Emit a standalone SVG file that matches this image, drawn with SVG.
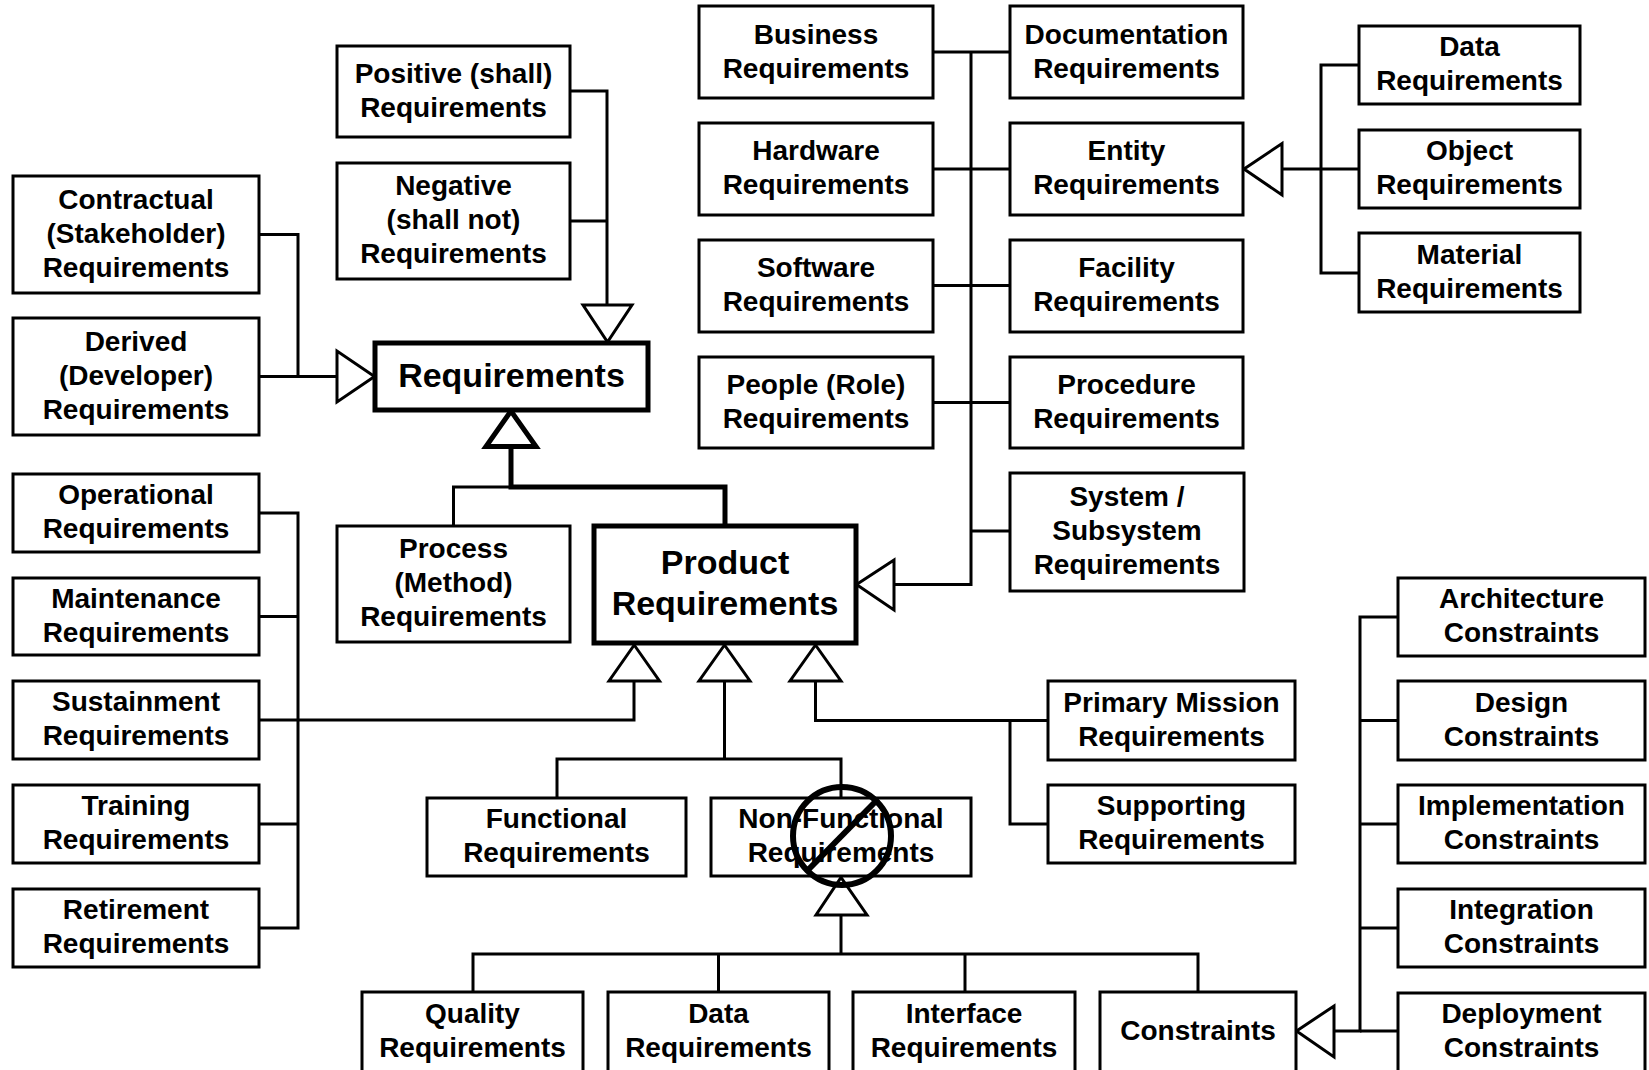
<svg xmlns="http://www.w3.org/2000/svg" width="1649" height="1070" viewBox="0 0 1649 1070">
  <style>
    .box { fill: #fff; stroke: #000; stroke-width: 3; }
    .bold { fill: #fff; stroke: #000; stroke-width: 5; }
    .ln { fill: none; stroke: #000; stroke-width: 3; stroke-linejoin: miter; }
    .thick { fill: none; stroke: #000; stroke-width: 5; stroke-linejoin: miter; }
    .tri { fill: #fff; stroke: #000; stroke-width: 3; stroke-linejoin: miter; }
    .tri-thick { fill: #fff; stroke: #000; stroke-width: 5; stroke-linejoin: miter; }
    text { font-family: "Liberation Sans", Arial, sans-serif; font-weight: bold; font-size: 28px; text-anchor: middle; fill: #000; }
    text.big { font-size: 34px; }
    .no { fill: none; stroke: #000; stroke-width: 6; }
  </style>

  <!-- connectors and generalization triangles -->
  <g id="connectors">
    <!-- Contractual / Derived to Requirements -->
    <path class="ln" d="M259,234.5 H298 V376.5"/>
    <path class="ln" d="M259,376.5 H337"/>
    <polygon class="tri" points="337,351 337,402 374.5,376.5"/>

    <!-- Positive / Negative to Requirements -->
    <path class="ln" d="M570,91 H607 V305"/>
    <path class="ln" d="M570,221 H607"/>
    <polygon class="tri" points="583,305 632,305 607.5,342"/>

    <!-- Process / Product to Requirements -->
    <path class="ln" d="M453.5,526 V487 H511"/>
    <path class="thick" d="M511,447 V487 H725 V526"/>
    <polygon class="tri-thick" points="486,446.5 536,446.5 511,411"/>

    <!-- physical categories bus to Product Requirements -->
    <path class="ln" d="M894,584.5 H971 V52"/>
    <path class="ln" d="M933,52 H1010"/>
    <path class="ln" d="M933,169 H1010"/>
    <path class="ln" d="M933,285.5 H1010"/>
    <path class="ln" d="M933,402.5 H1010"/>
    <path class="ln" d="M971,531 H1010"/>
    <polygon class="tri" points="894,560 894,610 856.5,584.5"/>

    <!-- Data / Object / Material to Entity -->
    <path class="ln" d="M1359,65 H1321 V273 H1359"/>
    <path class="ln" d="M1282,169 H1359"/>
    <polygon class="tri" points="1282,143.5 1282,195 1244,169"/>

    <!-- lifecycle bus to Product Requirements -->
    <path class="ln" d="M259,513 H298 V928 H259"/>
    <path class="ln" d="M259,616.5 H298"/>
    <path class="ln" d="M259,824 H298"/>
    <path class="ln" d="M259,720 H634 V681"/>
    <polygon class="tri" points="609,681 659.5,681 634.2,645"/>

    <!-- Functional / Non-Functional to Product Requirements -->
    <path class="ln" d="M724.5,681 V759"/>
    <path class="ln" d="M557,798 V759 H841 V798"/>
    <polygon class="tri" points="699,681 750,681 724.5,645"/>

    <!-- Primary Mission / Supporting to Product Requirements -->
    <path class="ln" d="M815.5,681 V720.5 H1048"/>
    <path class="ln" d="M1010,720.5 V824 H1048"/>
    <polygon class="tri" points="790,681 841,681 815.5,645"/>

    <!-- quality categories to Non-Functional -->
    <path class="ln" d="M841,915 V954"/>
    <path class="ln" d="M473,992 V954 H1198 V992"/>
    <path class="ln" d="M718.5,954 V992"/>
    <path class="ln" d="M965,954 V992"/>
    <polygon class="tri" points="816,915 867,915 841,877.5"/>

    <!-- constraint kinds to Constraints -->
    <path class="ln" d="M1398,617 H1360 V1031 H1334"/>
    <path class="ln" d="M1360,720.5 H1398"/>
    <path class="ln" d="M1360,824 H1398"/>
    <path class="ln" d="M1360,928 H1398"/>
    <path class="ln" d="M1360,1031 H1398"/>
    <polygon class="tri" points="1334,1006 1334,1057 1296.5,1031"/>
  </g>

  <!-- left column -->
  <g id="contractual">
    <rect class="box" x="13" y="176" width="246" height="117"/>
    <text x="136" y="208.5">Contractual</text>
    <text x="136" y="242.5">(Stakeholder)</text>
    <text x="136" y="276.5">Requirements</text>
  </g>
  <g id="derived">
    <rect class="box" x="13" y="318" width="246" height="117"/>
    <text x="136" y="350.5">Derived</text>
    <text x="136" y="384.5">(Developer)</text>
    <text x="136" y="418.5">Requirements</text>
  </g>
  <g id="operational">
    <rect class="box" x="13" y="474" width="246" height="78"/>
    <text x="136" y="504">Operational</text>
    <text x="136" y="538">Requirements</text>
  </g>
  <g id="maintenance">
    <rect class="box" x="13" y="578" width="246" height="77"/>
    <text x="136" y="607.5">Maintenance</text>
    <text x="136" y="641.5">Requirements</text>
  </g>
  <g id="sustainment">
    <rect class="box" x="13" y="681" width="246" height="78"/>
    <text x="136" y="711">Sustainment</text>
    <text x="136" y="745">Requirements</text>
  </g>
  <g id="training">
    <rect class="box" x="13" y="785" width="246" height="78"/>
    <text x="136" y="815">Training</text>
    <text x="136" y="849">Requirements</text>
  </g>
  <g id="retirement">
    <rect class="box" x="13" y="889" width="246" height="78"/>
    <text x="136" y="919">Retirement</text>
    <text x="136" y="953">Requirements</text>
  </g>

  <!-- requirement kinds -->
  <g id="positive">
    <rect class="box" x="337" y="46" width="233" height="91"/>
    <text x="453.5" y="82.5">Positive (shall)</text>
    <text x="453.5" y="116.5">Requirements</text>
  </g>
  <g id="negative">
    <rect class="box" x="337" y="163" width="233" height="116"/>
    <text x="453.5" y="195">Negative</text>
    <text x="453.5" y="229">(shall not)</text>
    <text x="453.5" y="263">Requirements</text>
  </g>
  <g id="requirements">
    <rect class="bold" x="375" y="343" width="273" height="67"/>
    <text class="big" x="511.5" y="386.5">Requirements</text>
  </g>
  <g id="process">
    <rect class="box" x="337" y="526" width="233" height="116"/>
    <text x="453.5" y="558">Process</text>
    <text x="453.5" y="592">(Method)</text>
    <text x="453.5" y="626">Requirements</text>
  </g>
  <g id="product">
    <rect class="bold" x="594" y="526" width="262" height="117"/>
    <text class="big" x="725" y="574">Product</text>
    <text class="big" x="725" y="615">Requirements</text>
  </g>
  <g id="functional">
    <rect class="box" x="427" y="798" width="259" height="78"/>
    <text x="556.5" y="828">Functional</text>
    <text x="556.5" y="862">Requirements</text>
  </g>
  <g id="non-functional">
    <rect class="box" x="711" y="798" width="260" height="78"/>
    <text x="841" y="828">Non-Functional</text>
    <text x="841" y="862">Requirements</text>
    <circle class="no" cx="842" cy="836" r="49"/>
    <line class="no" x1="878" y1="799" x2="806" y2="872"/>
  </g>

  <!-- quality categories -->
  <g id="quality">
    <rect class="box" x="362" y="992" width="221" height="82"/>
    <text x="472.5" y="1023">Quality</text>
    <text x="472.5" y="1057">Requirements</text>
  </g>
  <g id="data-nf">
    <rect class="box" x="608" y="992" width="221" height="82"/>
    <text x="718.5" y="1023">Data</text>
    <text x="718.5" y="1057">Requirements</text>
  </g>
  <g id="interface">
    <rect class="box" x="853" y="992" width="222" height="82"/>
    <text x="964" y="1023">Interface</text>
    <text x="964" y="1057">Requirements</text>
  </g>
  <g id="constraints">
    <rect class="box" x="1100" y="992" width="196" height="82"/>
    <text x="1198" y="1040">Constraints</text>
  </g>

  <!-- physical categories -->
  <g id="business">
    <rect class="box" x="699" y="6" width="234" height="92"/>
    <text x="816" y="44">Business</text>
    <text x="816" y="78">Requirements</text>
  </g>
  <g id="documentation">
    <rect class="box" x="1010" y="6" width="233" height="92"/>
    <text x="1126.5" y="44">Documentation</text>
    <text x="1126.5" y="78">Requirements</text>
  </g>
  <g id="hardware">
    <rect class="box" x="699" y="123" width="234" height="92"/>
    <text x="816" y="160">Hardware</text>
    <text x="816" y="194">Requirements</text>
  </g>
  <g id="entity">
    <rect class="box" x="1010" y="123" width="233" height="92"/>
    <text x="1126.5" y="160">Entity</text>
    <text x="1126.5" y="194">Requirements</text>
  </g>
  <g id="software">
    <rect class="box" x="699" y="240" width="234" height="92"/>
    <text x="816" y="277">Software</text>
    <text x="816" y="311">Requirements</text>
  </g>
  <g id="facility">
    <rect class="box" x="1010" y="240" width="233" height="92"/>
    <text x="1126.5" y="277">Facility</text>
    <text x="1126.5" y="311">Requirements</text>
  </g>
  <g id="people">
    <rect class="box" x="699" y="357" width="234" height="91"/>
    <text x="816" y="393.5">People (Role)</text>
    <text x="816" y="427.5">Requirements</text>
  </g>
  <g id="procedure">
    <rect class="box" x="1010" y="357" width="233" height="91"/>
    <text x="1126.5" y="393.5">Procedure</text>
    <text x="1126.5" y="427.5">Requirements</text>
  </g>
  <g id="system">
    <rect class="box" x="1010" y="473" width="234" height="118"/>
    <text x="1127" y="506">System /</text>
    <text x="1127" y="540">Subsystem</text>
    <text x="1127" y="574">Requirements</text>
  </g>

  <!-- entity kinds -->
  <g id="data-entity">
    <rect class="box" x="1359" y="26" width="221" height="78"/>
    <text x="1469.5" y="56">Data</text>
    <text x="1469.5" y="90">Requirements</text>
  </g>
  <g id="object">
    <rect class="box" x="1359" y="130" width="221" height="78"/>
    <text x="1469.5" y="160">Object</text>
    <text x="1469.5" y="194">Requirements</text>
  </g>
  <g id="material">
    <rect class="box" x="1359" y="233" width="221" height="79"/>
    <text x="1469.5" y="263.5">Material</text>
    <text x="1469.5" y="297.5">Requirements</text>
  </g>

  <!-- mission / supporting -->
  <g id="primary-mission">
    <rect class="box" x="1048" y="681" width="247" height="79"/>
    <text x="1171.5" y="711.5">Primary Mission</text>
    <text x="1171.5" y="745.5">Requirements</text>
  </g>
  <g id="supporting">
    <rect class="box" x="1048" y="785" width="247" height="78"/>
    <text x="1171.5" y="815">Supporting</text>
    <text x="1171.5" y="849">Requirements</text>
  </g>

  <!-- constraint kinds -->
  <g id="architecture">
    <rect class="box" x="1398" y="578" width="247" height="78"/>
    <text x="1521.5" y="608">Architecture</text>
    <text x="1521.5" y="642">Constraints</text>
  </g>
  <g id="design">
    <rect class="box" x="1398" y="681" width="247" height="79"/>
    <text x="1521.5" y="711.5">Design</text>
    <text x="1521.5" y="745.5">Constraints</text>
  </g>
  <g id="implementation">
    <rect class="box" x="1398" y="785" width="247" height="78"/>
    <text x="1521.5" y="815">Implementation</text>
    <text x="1521.5" y="849">Constraints</text>
  </g>
  <g id="integration">
    <rect class="box" x="1398" y="889" width="247" height="78"/>
    <text x="1521.5" y="919">Integration</text>
    <text x="1521.5" y="953">Constraints</text>
  </g>
  <g id="deployment">
    <rect class="box" x="1398" y="993" width="247" height="82"/>
    <text x="1521.5" y="1023">Deployment</text>
    <text x="1521.5" y="1057">Constraints</text>
  </g>
</svg>
